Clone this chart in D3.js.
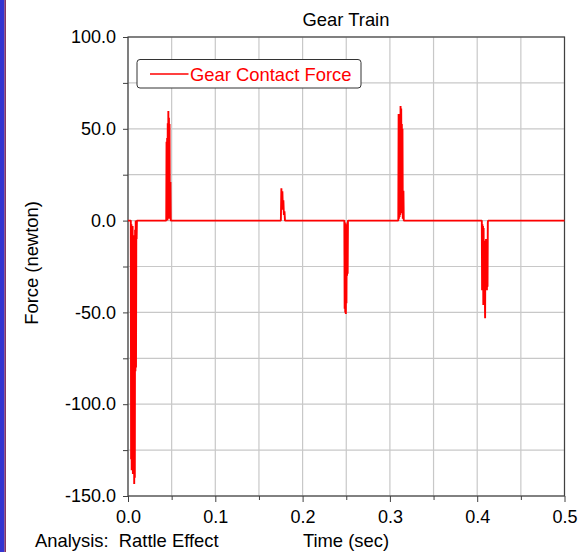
<!DOCTYPE html>
<html>
<head>
<meta charset="utf-8">
<script src="https://cdn.jsdelivr.net/npm/d3@7"></script>
<style>
  html, body { margin: 0; padding: 0; background: #ffffff; }
  svg { display: block; font-family: "Liberation Sans", Arial, sans-serif; }
</style>
</head>
<body>
<svg id="chart" width="579" height="552"></svg>
<script>
// Gear contact force, rattle effect analysis
const chartTitle = "Gear Train";
const seriesName = "Gear Contact Force";
const xLabel = "Time (sec)";
const yLabel = "Force (newton)";
const analysisNote = "Analysis:  Rattle Effect";

const xMajorTicks = [0, 0.1, 0.2, 0.3, 0.4, 0.5];
const xMinorTicks = [0.05, 0.15, 0.25, 0.35, 0.45];
const yMajorTicks = [-150, -100, -50, 0, 50, 100];
const yMinorTicks = [-125, -75, -25, 25, 75];

// sampled time (s) and contact force (N); the bursts are the tooth impacts
const timeSec = [
  0,
  0.00321, 0.00356, 0.00390, 0.00424, 0.00459, 0.00493, 0.00528, 0.00562, 0.00596,
  0.00631, 0.00677, 0.00711, 0.00745, 0.00780, 0.00814, 0.00849, 0.00883, 0.00917,
  0.00952, 0.00986, 0.01021,
  0.04381, 0.04415, 0.04450, 0.04484, 0.04518, 0.04553, 0.04587, 0.04622, 0.04656,
  0.04690, 0.04725, 0.04759, 0.04794, 0.04828, 0.04862, 0.04897,
  0.17511, 0.17569, 0.17626, 0.17683, 0.17741, 0.17798, 0.17856, 0.17924, 0.17982,
  0.24782, 0.24817, 0.24851, 0.24885, 0.24920, 0.24954, 0.24989, 0.25023, 0.25057,
  0.25092, 0.25126, 0.25161, 0.25195,
  0.30963, 0.31000, 0.31037, 0.31073, 0.31110, 0.31147, 0.31183, 0.31220, 0.31257,
  0.31294, 0.31330, 0.31367, 0.31404, 0.31440, 0.31477, 0.31514, 0.31550, 0.31587,
  0.40528, 0.40562, 0.40597, 0.40631, 0.40666, 0.40700, 0.40734, 0.40769, 0.40803,
  0.40838, 0.40872, 0.40906, 0.40941, 0.40975, 0.41010, 0.41044, 0.41078, 0.41113,
  0.41147, 0.41182, 0.41216, 0.41250,
  0.5
];
const forceN = [
  0,
  0, -130, -2, -136, -4, -134, -3, -138, -8,
  -136, -62, -143.5, -61, -140, -5, -82, 0, -80,
  -2, -10, 0,
  0, 43, 2, 45, 0, 53, 5, 59.7, 1,
  56, 27, 52.6, 1, 3, 21, 0,
  0, 17.6, 8, 16, 6, 11, 3, 5, 0,
  0, -48, -1, -50, -2, -50.9, -3, -45, -2,
  -30, -1, -29, 0,
  0, 58, 1, 58, 2, 57, 3, 62.4, 4,
  61, 22, 52.6, 22, 50, 1, 2, 16.3, 0,
  0, -38, -2, -38, -3, -46, -4, -46, -20,
  -46, -38, -53.2, -11, -38, -10, -38, -11, -38,
  -10, -36, -1, 0,
  0
];

const svg = d3.select("#chart");
const plot = { left: 128, right: 564.5, top: 37, bottom: 496 };

const x = d3.scaleLinear().domain([0, 0.5]).range([plot.left, plot.right]);
const y = d3.scaleLinear().domain([-150, 100]).range([plot.bottom, plot.top]);

// window edge strip
svg.append("rect").attr("x", 0).attr("y", 0).attr("width", 4.5).attr("height", 552).attr("fill", "#3434d0");
svg.append("line").attr("x1", 5.2).attr("x2", 5.2).attr("y1", 0).attr("y2", 552)
  .attr("stroke", "#7a1f52").attr("stroke-width", 1.4);

// grid
const gridColor = "#c8c8c8";
const grid = svg.append("g");
grid.selectAll(".gx").data(xMajorTicks.concat(xMinorTicks)).join("line")
  .attr("x1", d => x(d)).attr("x2", d => x(d))
  .attr("y1", plot.top).attr("y2", plot.bottom)
  .attr("stroke", gridColor).attr("stroke-width", 1.2);
grid.selectAll(".gy").data(yMajorTicks.concat(yMinorTicks)).join("line")
  .attr("x1", plot.left).attr("x2", plot.right)
  .attr("y1", d => y(d)).attr("y2", d => y(d))
  .attr("stroke", gridColor).attr("stroke-width", 1.2);

// axes (plain hyphen for negatives)
const fmt = d => d.toFixed(1);
const styleAxis = g => {
  g.select(".domain").remove();
  g.selectAll(".tick line").attr("stroke", "#404040").attr("stroke-width", 1);
  g.selectAll(".tick text").attr("fill", "#000").style("font-size", "18px")
    .style("font-family", '"Liberation Sans", Arial, sans-serif');
};
svg.append("g").attr("transform", `translate(${plot.left},0)`)
  .call(d3.axisLeft(y).tickValues(yMinorTicks).tickSize(5).tickFormat(""))
  .call(styleAxis);
svg.append("g").attr("transform", `translate(${plot.left},0)`)
  .call(d3.axisLeft(y).tickValues(yMajorTicks).tickSize(5).tickPadding(7).tickFormat(fmt))
  .call(styleAxis);
svg.append("g").attr("transform", `translate(0,${plot.bottom})`)
  .call(d3.axisBottom(x).tickValues(xMinorTicks).tickSize(4).tickFormat(""))
  .call(styleAxis);
svg.append("g").attr("transform", `translate(0,${plot.bottom})`)
  .call(d3.axisBottom(x).tickValues(xMajorTicks).tickSize(6).tickPadding(8).tickFormat(fmt))
  .call(styleAxis);

// frame
svg.append("rect")
  .attr("x", plot.left).attr("y", plot.top)
  .attr("width", plot.right - plot.left).attr("height", plot.bottom - plot.top)
  .attr("fill", "none").attr("stroke", "#404040").attr("stroke-width", 1.2);

// force trace
const pts = timeSec.map((t, i) => [t, forceN[i]]);
svg.append("path")
  .datum(pts)
  .attr("fill", "none")
  .attr("stroke", "#ff0000")
  .attr("stroke-width", 1.9)
  .attr("stroke-linejoin", "bevel")
  .attr("d", d3.line().x(d => x(d[0])).y(d => y(d[1])));

// legend
const legend = svg.append("g");
legend.append("rect")
  .attr("x", 137).attr("y", 59.5).attr("width", 224).attr("height", 28.5)
  .attr("rx", 3).attr("ry", 3)
  .attr("fill", "#ffffff").attr("stroke", "#333333").attr("stroke-width", 1);
legend.append("line")
  .attr("x1", 150).attr("x2", 188.5).attr("y1", 74).attr("y2", 74)
  .attr("stroke", "#ff0000").attr("stroke-width", 1.5);
legend.append("text")
  .attr("x", 190).attr("y", 80.5)
  .attr("fill", "#ff0000").style("font-size", "18.4px")
  .text(seriesName);

// titles and labels
svg.append("text").attr("x", 346).attr("y", 26).attr("text-anchor", "middle")
  .style("font-size", "18.4px").attr("fill", "#000").text(chartTitle);
svg.append("text").attr("transform", "translate(38,263) rotate(-90)")
  .attr("text-anchor", "middle").style("font-size", "18.4px").attr("fill", "#000").text(yLabel);
svg.append("text").attr("x", 346).attr("y", 547).attr("text-anchor", "middle")
  .style("font-size", "18.4px").attr("fill", "#000").text(xLabel);
svg.append("text").attr("x", 35).attr("y", 547)
  .style("font-size", "18.4px").style("white-space", "pre").attr("fill", "#000").text(analysisNote);
</script>
</body>
</html>
